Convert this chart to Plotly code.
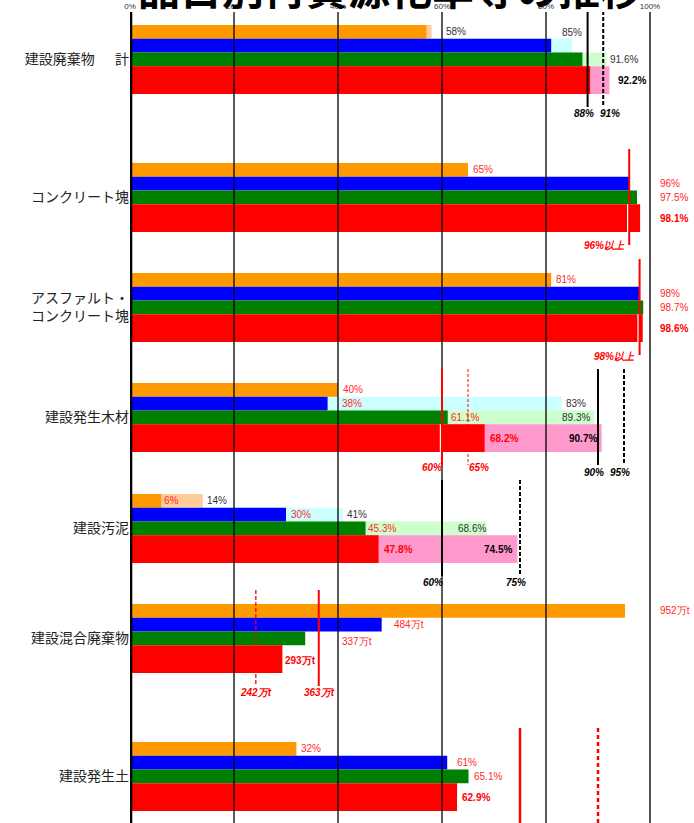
import plotly.graph_objects as go

# ---------------- data ----------------
categories = ["建設廃棄物\u3000\u00a0\u00a0計", "コンクリート塊", "アスファルト・<br>コンクリート塊",
              "建設発生木材", "建設汚泥", "建設混合廃棄物", "建設発生土"]
units = ["%", "%", "%", "%", "%", "万t", "%"]
series_names = ["H7", "H12", "H14", "H17"]

# recycling rate (dark bars); 建設混合廃棄物 in 万t
rate_h7 = [57, 65, 81, 40, 6, 952, 32]
rate_h12 = [81, 96, 98, 38, 30, 484, 61]
rate_h14 = [87, 97.5, 98.7, 61.1, 45.3, 337, 65.1]
rate_h17 = [88.5, 98.1, 98.6, 68.2, 47.8, 293, 62.9]

# rate incl. reduction (light bars)
red_h7 = [58, None, None, None, 14, None, None]
red_h12 = [85, None, None, 83, 41, None, None]
red_h14 = [91.6, None, None, 89.3, 68.6, None, None]
red_h17 = [92.2, None, None, 90.7, 74.5, None, None]

# targets
target_cat = [0, 0, 1, 2, 3, 3, 3, 3, 4, 4, 5, 5, 6, 6]
target_value = [88, 91, 96, 98, 60, 65, 90, 95, 60, 75, 242, 363, 75, 90]
target_text = ["88%", "91%", "96%以上", "98%以上", "60%", "65%", "90%", "95%",
               "60%", "75%", "242万t", "363万t", "", ""]

# ---------------- layout helpers ----------------
scale = [0.1 if u == "万t" else 1 for u in units]   # 1000万t shown as 100
PX = 5.2                                            # pixels per 1% (axis)
GROUP_TOP = [25, 163, 273, 383, 494, 604, 742]
ROW_TOP = [0, 13.75, 27.5, 41.25]
ROW_H = [13.75, 13.75, 13.75, 27.75]
ROW_C = [ROW_TOP[i] + ROW_H[i] / 2 for i in range(4)]

dark = [rate_h7, rate_h12, rate_h14, rate_h17]
light = [red_h7, red_h12, red_h14, red_h17]
dark_col = ["#FF9900", "#0000FF", "#008000", "#FF0000"]
light_col = ["#FFCC99", "#CCFFFF", "#CCFFCC", "#FF99CC"]

fig = go.Figure()


def scaled(vals):
    return [None if v is None else v * scale[i] for i, v in enumerate(vals)]


for s in range(4):
    ys = [t + ROW_C[s] for t in GROUP_TOP]
    fig.add_trace(go.Bar(x=scaled(light[s]), y=ys, orientation="h", width=ROW_H[s],
                         marker=dict(color=light_col[s], line=dict(width=0)),
                         name=series_names[s] + " 縮減込", hoverinfo="skip", showlegend=False))
for s in range(4):
    ys = [t + ROW_C[s] for t in GROUP_TOP]
    fig.add_trace(go.Bar(x=scaled(dark[s]), y=ys, orientation="h", width=ROW_H[s],
                         marker=dict(color=dark_col[s], line=dict(width=0)),
                         name=series_names[s], hoverinfo="skip", showlegend=False))

shapes = []
# grid lines over bars
for v in [20, 40, 60, 80]:
    shapes.append(dict(type="line", xref="x", yref="paper", x0=v, x1=v, y0=0, y1=1,
                       line=dict(color="black", width=1.3), layer="above"))
shapes.append(dict(type="line", xref="x", yref="paper", x0=100, x1=100, y0=0, y1=1,
                   line=dict(color="#555555", width=2), layer="above"))
shapes.append(dict(type="line", xref="x", yref="paper", x0=0.15, x1=0.15, y0=0, y1=1,
                   line=dict(color="black", width=3), layer="above"))

# target lines
t_color = ["black", "black", "red", "red", "red", "red", "black", "black",
           "black", "black", "red", "red", "red", "red"]
t_dash = ["solid", "4px,2px", "solid", "solid", "solid", "3px,2px", "solid", "4px,2px",
          "solid", "4px,2px", "4px,2px", "solid", "solid", "4px,3px"]
t_width = [2, 2, 2, 2, 2, 1, 2, 2, 2, 2, 1.3, 2, 2.5, 2.5]
t_anchor = ["center", "center", "right", "right", "center", "center", "center", "center",
            "center", "center", "center", "center", "center", "center"]
t_dx = [-4, 7, -2, -3, -10, 11, -4, -4, -9, -4, 0, 1, 0, 0]
t_dy = [88, 88, 82, 83, 84, 84, 89, 89, 88, 88, 88, 88, 88, 88]
white_edge = [False, False, True, True, True, False, False, False,
              False, False, False, False, False, False]

annotations = []
for i, c in enumerate(target_cat):
    xv = target_value[i] * scale[c]
    top = GROUP_TOP[c]
    shapes.append(dict(type="line", xref="x", yref="y", x0=xv, x1=xv,
                       y0=top - 14, y1=top + 82,
                       line=dict(color=t_color[i], width=t_width[i], dash=t_dash[i]),
                       layer="above"))
    if white_edge[i]:
        xw = xv - 1.6 / PX
        shapes.append(dict(type="line", xref="x", yref="y", x0=xw, x1=xw,
                           y0=top + ROW_TOP[3], y1=top + ROW_TOP[3] + ROW_H[3],
                           line=dict(color="white", width=1.2), layer="above"))
    if target_text[i]:
        annotations.append(dict(x=xv, y=top + t_dy[i], xref="x", yref="y",
                                text="<b><i>" + target_text[i] + "</i></b>",
                                showarrow=False, xanchor=t_anchor[i], yanchor="middle",
                                xshift=t_dx[i],
                                font=dict(family="Liberation Sans, Arial", size=10,
                                          color=t_color[i])))


def fmt(v, u):
    if u == "万t":
        return f"{v:g}万t"
    return f"{v:g}%"


RED_TXT = "#FF2A2A"
COL_X = (658 - 130) / PX   # column used for labels right of 100%

# dark value labels: (cat, series) -> (mode, dx, dy)
dark_over = {
    (1, 1): ("col", 0, 0), (1, 2): ("col", 0, 0), (1, 3): ("col", 0, 0),
    (2, 1): ("col", 0, 0), (2, 2): ("col", 0, 0), (2, 3): ("col", 0, 0),
    (5, 0): ("col", 0, 0),
    (3, 1): ("end", 12, 0), (3, 2): ("end", 1, 0),
    (4, 0): ("end", 1, 0), (4, 2): ("end", 0, 0), (4, 3): ("end", 3, 0),
    (5, 1): ("end", 10, 0), (5, 2): ("end", 35, 3), (5, 3): ("end", 1, 1),
    (6, 1): ("end", 8, 0),
}
for c in range(1, 7):
    for s in range(4):
        v = dark[s][c]
        mode, dx, dy = dark_over.get((c, s), ("end", 3, 0))
        xv = COL_X if mode == "col" else v * scale[c]
        bold = s == 3
        txt = fmt(v, units[c])
        annotations.append(dict(x=xv, y=GROUP_TOP[c] + ROW_C[s] + dy, xref="x", yref="y",
                                text=("<b>" + txt + "</b>") if bold else txt,
                                showarrow=False, xanchor="left", yanchor="middle",
                                xshift=dx,
                                font=dict(family="Liberation Sans, Arial", size=10,
                                          color="red" if bold else RED_TXT)))

# light value labels: (cat, series) -> (anchor, dx, row_shift)
light_over = {
    (0, 0): ("left", 12, 0), (0, 1): ("center", 0, -1), (0, 2): ("left", 2, 0),
    (0, 3): ("left", 7, 0),
    (3, 1): ("left", 2, 0), (3, 2): ("right", -2, 0), (3, 3): ("right", -3, 0),
    (4, 0): ("left", 2, 0), (4, 1): ("left", 2, 0), (4, 2): ("right", 1, 0),
    (4, 3): ("right", -3, 0),
}
for c in range(7):
    for s in range(4):
        v = light[s][c]
        if v is None:
            continue
        anchor, dx, rs = light_over.get((c, s), ("left", 2, 0))
        bold = s == 3
        txt = fmt(v, units[c])
        annotations.append(dict(x=v * scale[c], y=GROUP_TOP[c] + ROW_C[s + rs] + (1 if rs else 0),
                                xref="x", yref="y",
                                text=("<b>" + txt + "</b>") if bold else txt,
                                showarrow=False, xanchor=anchor, yanchor="middle",
                                xshift=dx,
                                font=dict(family="Liberation Sans, Arial", size=10,
                                          color="black" if bold else "#333333")))

fig.update_layout(
    width=694, height=823,
    margin=dict(l=130, r=0, t=12, b=0, pad=0),
    paper_bgcolor="white", plot_bgcolor="white",
    barmode="overlay",
    showlegend=False,
    # title only partly visible: it is cut off by the top edge of the page
    title=dict(text="<b>品目別再資源化率等の推移</b>", x=390 / 694, xanchor="center",
               xref="container", yref="container", y=1 - 5 / 823, yanchor="bottom",
               pad=dict(t=0, b=0, l=0, r=0),
               font=dict(family="Noto Sans CJK JP", size=42, color="black")),
    shapes=shapes,
    annotations=annotations,
    xaxis=dict(range=[0, 564 / PX], side="top", tickvals=[0, 20, 40, 60, 80, 100],
               ticktext=["0%", "20%", "40%", "60%", "80%", "100%"],
               tickfont=dict(family="Liberation Sans, Arial", size=8, color="#333333"),
               showgrid=False, zeroline=False, showline=False, ticks="", fixedrange=True),
    yaxis=dict(range=[823, 12], tickvals=[t + 34.5 for t in GROUP_TOP], ticktext=categories,
               tickfont=dict(family="Noto Sans CJK JP", size=14, color="#222222"),
               showgrid=False, zeroline=False, showline=False, ticks="", fixedrange=True),
)

fig.write_html("out.html")
